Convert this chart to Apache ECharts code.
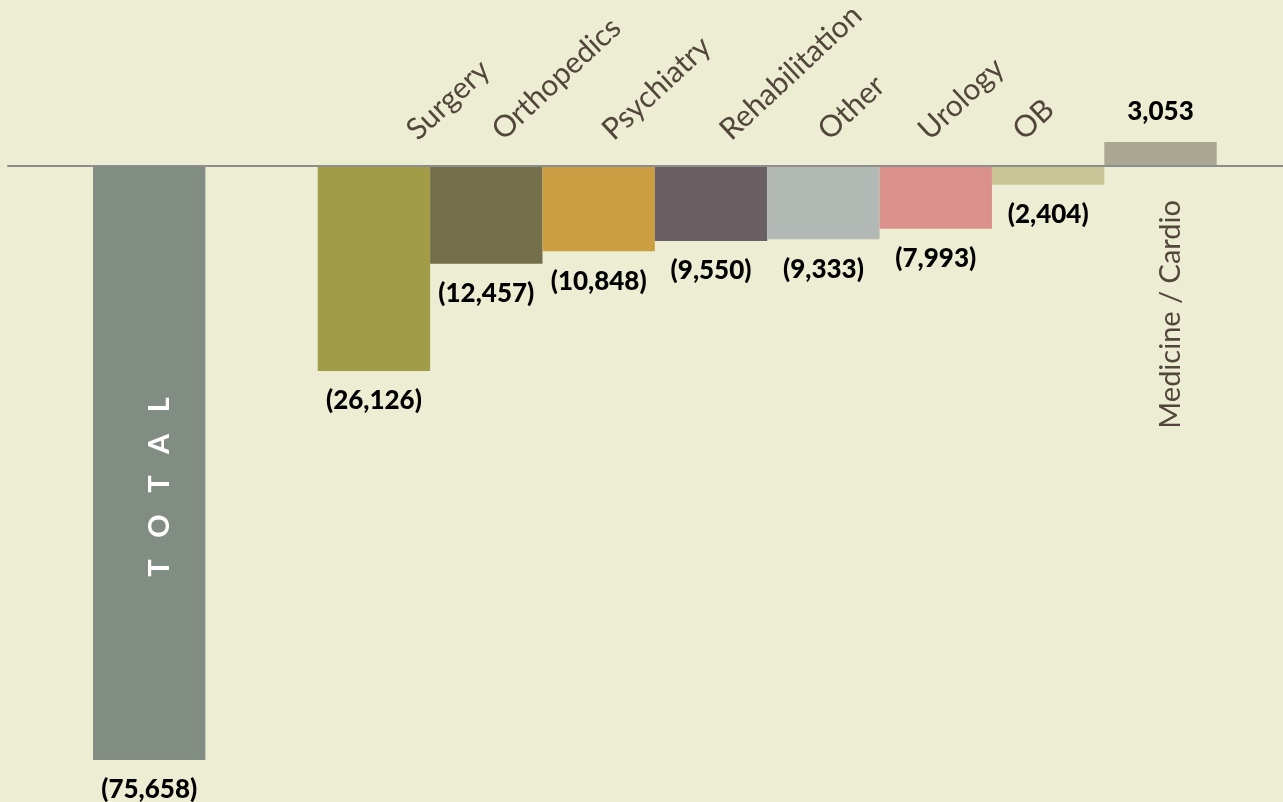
<!DOCTYPE html>
<html>
<head>
<meta charset="utf-8">
<script src="https://cdn.jsdelivr.net/npm/echarts@6/dist/echarts.min.js"></script>
<style>
html,body{margin:0;padding:0;background:#EDEDD3;}
#chart{width:1283px;height:802px;}
</style>
</head>
<body>
<div id="chart"></div>
<script>
var categories = ['TOTAL', '', 'Surgery', 'Orthopedics', 'Psychiatry', 'Rehabilitation', 'Other', 'Urology', 'OB', 'Medicine / Cardio'];
var values = [-75658, null, -26126, -12457, -10848, -9550, -9333, -7993, -2404, 3053];
var barColors = ['#818C83', '#EDEDD3', '#A29B48', '#736F4B', '#CC9E42', '#6A5F63', '#B3B9B4', '#DA918C', '#C9C597', '#A9A691'];
// horizontal nudges (px) for the slanted department names, as placed in the original
var nameNudge = [0, 0, 38, 11, 9, 14, 0, -12, -30, 0];
var totalIndex = 0;
var insideLabelIndex = 9;

function fmt(v) {
  var s = Math.abs(v).toLocaleString('en-US');
  return v < 0 ? '(' + s + ')' : s;
}

var mainData = values.map(function (v, i) {
  if (v === null) return null;
  return {
    value: v,
    itemStyle: { color: barColors[i] },
    label: { position: v < 0 ? 'bottom' : 'top' }
  };
});

var totalData = values.map(function (v, i) {
  return i === totalIndex ? v : null;
});
var medData = values.map(function (v, i) {
  return i === insideLabelIndex ? v : null;
});
var nameData = categories.map(function (c, i) {
  if (!c || i === totalIndex || i === insideLabelIndex) return null;
  return { value: [i, 0], label: { position: [nameNudge[i], -31] } };
});

var FONT = 'Lato';
var chart = echarts.init(document.getElementById('chart'));
chart.setOption({
  backgroundColor: '#EDEDD3',
  animation: false,
  grid: [
    { left: 93, right: 66.3, top: 9, bottom: 8, containLabel: false, outerBoundsMode: 'none' },
    { left: 8, right: 0, top: 9, bottom: 8, containLabel: false, outerBoundsMode: 'none' }
  ],
  xAxis: [
    {
      type: 'category',
      gridIndex: 0,
      data: categories,
      axisLine: { show: false },
      axisTick: { show: false },
      axisLabel: { show: false }
    },
    {
      type: 'value',
      gridIndex: 1,
      min: 0,
      max: 1,
      z: 10,
      axisLine: { show: true, onZero: true, lineStyle: { color: '#8D8D8D', width: 2 } },
      axisTick: { show: false },
      axisLabel: { show: false },
      splitLine: { show: false }
    }
  ],
  yAxis: [
    {
      type: 'value',
      gridIndex: 0,
      min: -80000,
      max: 20000,
      show: false,
      splitLine: { show: false }
    },
    {
      type: 'value',
      gridIndex: 1,
      min: -80000,
      max: 20000,
      show: false,
      splitLine: { show: false }
    }
  ],
  series: [
    {
      type: 'bar',
      xAxisIndex: 0,
      yAxisIndex: 0,
      barWidth: '100%',
      barGap: '-100%',
      data: mainData,
      label: {
        show: true,
        distance: 17,
        fontFamily: FONT,
        fontWeight: 900,
        fontSize: 26,
        color: '#000000',
        formatter: function (p) { return fmt(p.value); }
      }
    },
    {
      type: 'bar',
      xAxisIndex: 0,
      yAxisIndex: 0,
      barWidth: '100%',
      barGap: '-100%',
      silent: true,
      itemStyle: { color: 'rgba(0,0,0,0)' },
      data: totalData,
      label: {
        show: true,
        position: 'inside',
        rotate: 90,
        offset: [-24, 10],
        fontFamily: FONT,
        fontWeight: 'bold',
        fontSize: 29,
        color: '#FFFFFF',
        formatter: function () { return categories[totalIndex].split('').join('\u2002 '); }
      }
    },
    {
      type: 'bar',
      xAxisIndex: 0,
      yAxisIndex: 0,
      barWidth: '100%',
      barGap: '-100%',
      silent: true,
      itemStyle: { color: 'rgba(0,0,0,0)' },
      data: medData,
      label: {
        show: true,
        position: 'bottom',
        distance: 34,
        rotate: 90,
        align: 'right',
        verticalAlign: 'middle',
        offset: [0, 10],
        fontFamily: FONT,
        fontSize: 29,
        color: '#52463B',
        formatter: function () { return categories[insideLabelIndex]; }
      }
    },
    {
      type: 'scatter',
      xAxisIndex: 0,
      yAxisIndex: 0,
      symbolSize: 1,
      silent: true,
      clip: false,
      itemStyle: { color: 'rgba(0,0,0,0)', opacity: 1 },
      data: nameData,
      labelLayout: { hideOverlap: false },
      label: {
        show: true,
        rotate: 43,
        align: 'left',
        verticalAlign: 'middle',
        fontFamily: FONT,
        fontSize: 30,
        color: '#52463B',
        formatter: function (p) { return categories[p.dataIndex]; }
      }
    }
  ]
});
</script>
</body>
</html>
